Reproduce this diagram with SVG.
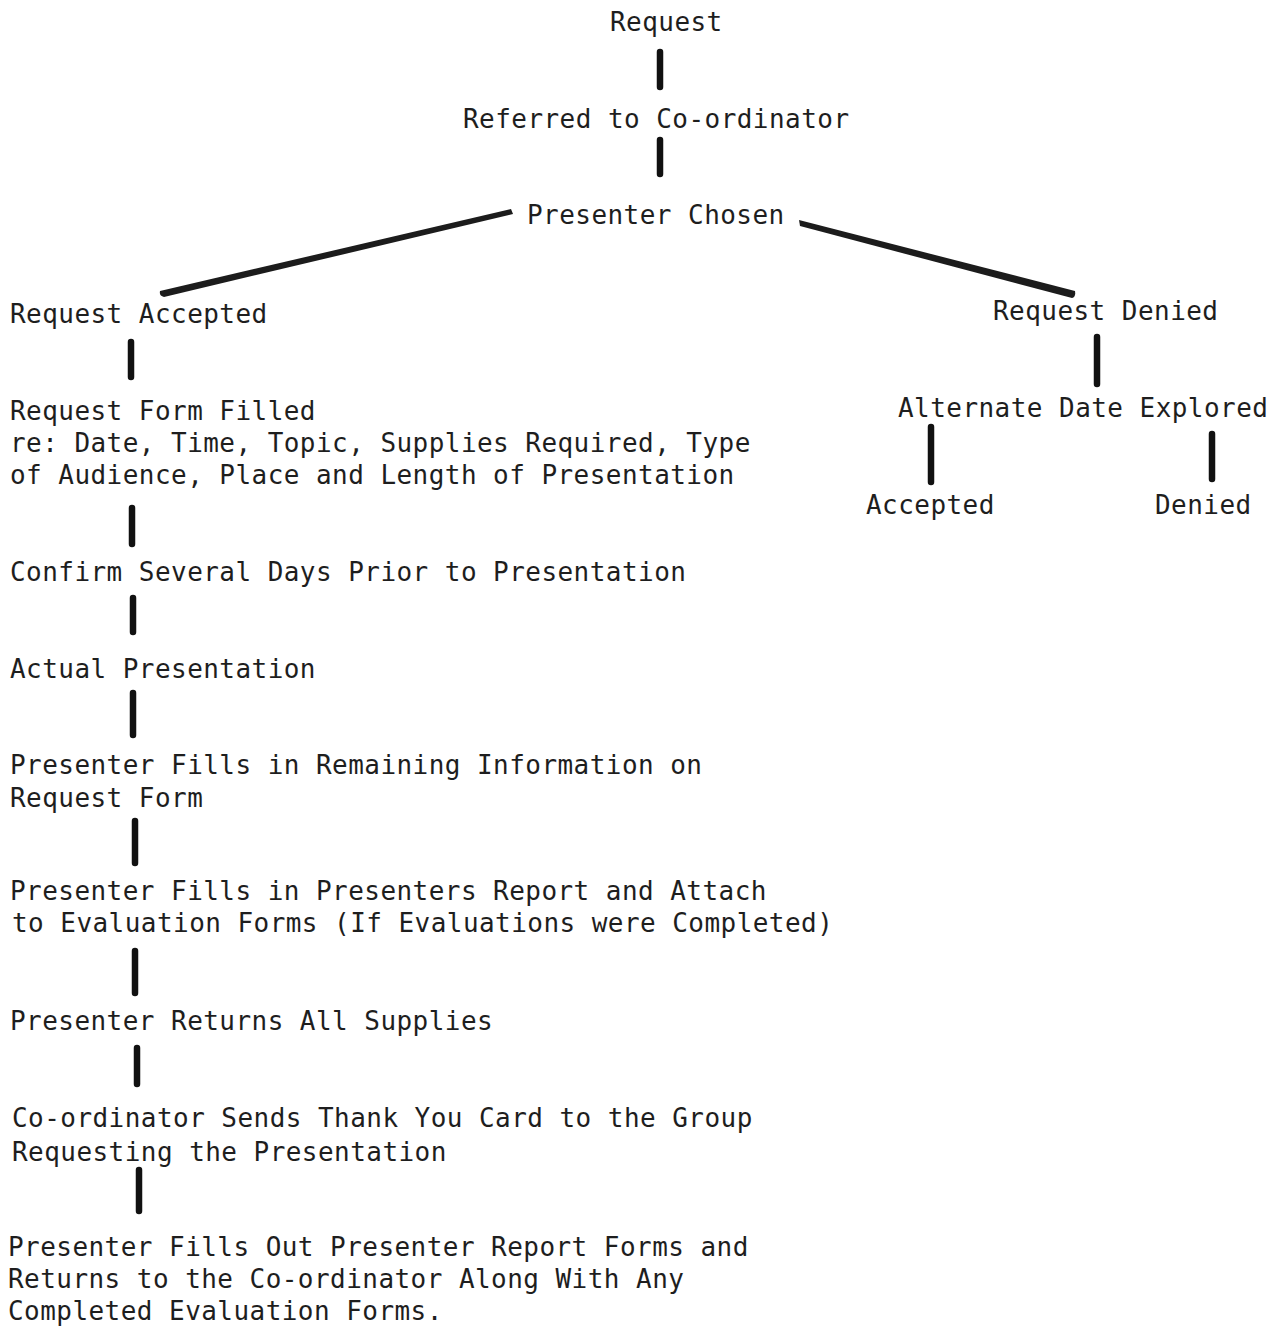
<svg xmlns="http://www.w3.org/2000/svg" width="1279" height="1326" viewBox="0 0 1279 1326">
<style>
text{font-family:"DejaVu Sans Mono","Liberation Mono",monospace;font-size:26px;letter-spacing:0.45px;fill:#1e1e1e}
.bar{stroke:#111;stroke-width:6.5;stroke-linecap:round;fill:none}
.diag{fill:#1c1c1c}
</style>
<rect width="1279" height="1326" fill="#fff"/>
<g id="connectors">
<line class="bar" x1="660" y1="52" x2="660" y2="87"/>
<line class="bar" x1="660" y1="140" x2="660" y2="174"/>
<path class="diag" d="M511,209 L513,214 L164,297 Q159,296 160,291 Z"/>
<path class="diag" d="M799,220 L800,226 L1072,298 Q1076,297 1075,291 Z"/>
<line class="bar" x1="131" y1="342" x2="131" y2="377"/>
<line class="bar" x1="1097" y1="337" x2="1097" y2="384"/>
<line class="bar" x1="931" y1="427" x2="931" y2="482"/>
<line class="bar" x1="1212" y1="434" x2="1212" y2="479"/>
<line class="bar" x1="132" y1="508" x2="132" y2="544"/>
<line class="bar" x1="133" y1="598" x2="133" y2="632"/>
<line class="bar" x1="133" y1="693" x2="133" y2="735"/>
<line class="bar" x1="135" y1="821" x2="135" y2="863"/>
<line class="bar" x1="135" y1="951" x2="135" y2="993"/>
<line class="bar" x1="137" y1="1048" x2="137" y2="1084"/>
<line class="bar" x1="139" y1="1170" x2="139" y2="1211"/>
</g>
<g id="n-request"><text x="610" y="31">Request</text></g>
<g id="n-referred"><text x="463" y="128">Referred to Co-ordinator</text></g>
<g id="n-chosen"><text x="527" y="224">Presenter Chosen</text></g>
<g id="n-accepted"><text x="10" y="323">Request Accepted</text></g>
<g id="n-denied"><text x="993" y="320">Request Denied</text></g>
<g id="n-alternate"><text x="898" y="417">Alternate Date Explored</text></g>
<g id="n-alt-accepted"><text x="866" y="514">Accepted</text></g>
<g id="n-alt-denied"><text x="1155" y="514">Denied</text></g>
<g id="n-form">
<text x="10" y="420">Request Form Filled</text>
<text x="10" y="452">re: Date, Time, Topic, Supplies Required, Type</text>
<text x="10" y="484">of Audience, Place and Length of Presentation</text>
</g>
<g id="n-confirm"><text x="10" y="581">Confirm Several Days Prior to Presentation</text></g>
<g id="n-actual"><text x="10" y="678">Actual Presentation</text></g>
<g id="n-remaining">
<text x="10" y="774">Presenter Fills in Remaining Information on</text>
<text x="10" y="807">Request Form</text>
</g>
<g id="n-report">
<text x="10" y="900">Presenter Fills in Presenters Report and Attach</text>
<text x="12" y="932">to Evaluation Forms (If Evaluations were Completed)</text>
</g>
<g id="n-returns"><text x="10" y="1030">Presenter Returns All Supplies</text></g>
<g id="n-thanks">
<text x="12" y="1127">Co-ordinator Sends Thank You Card to the Group</text>
<text x="12" y="1161">Requesting the Presentation</text>
</g>
<g id="n-final">
<text x="8" y="1256">Presenter Fills Out Presenter Report Forms and</text>
<text x="8" y="1288">Returns to the Co-ordinator Along With Any</text>
<text x="8" y="1320">Completed Evaluation Forms.</text>
</g>
</svg>
